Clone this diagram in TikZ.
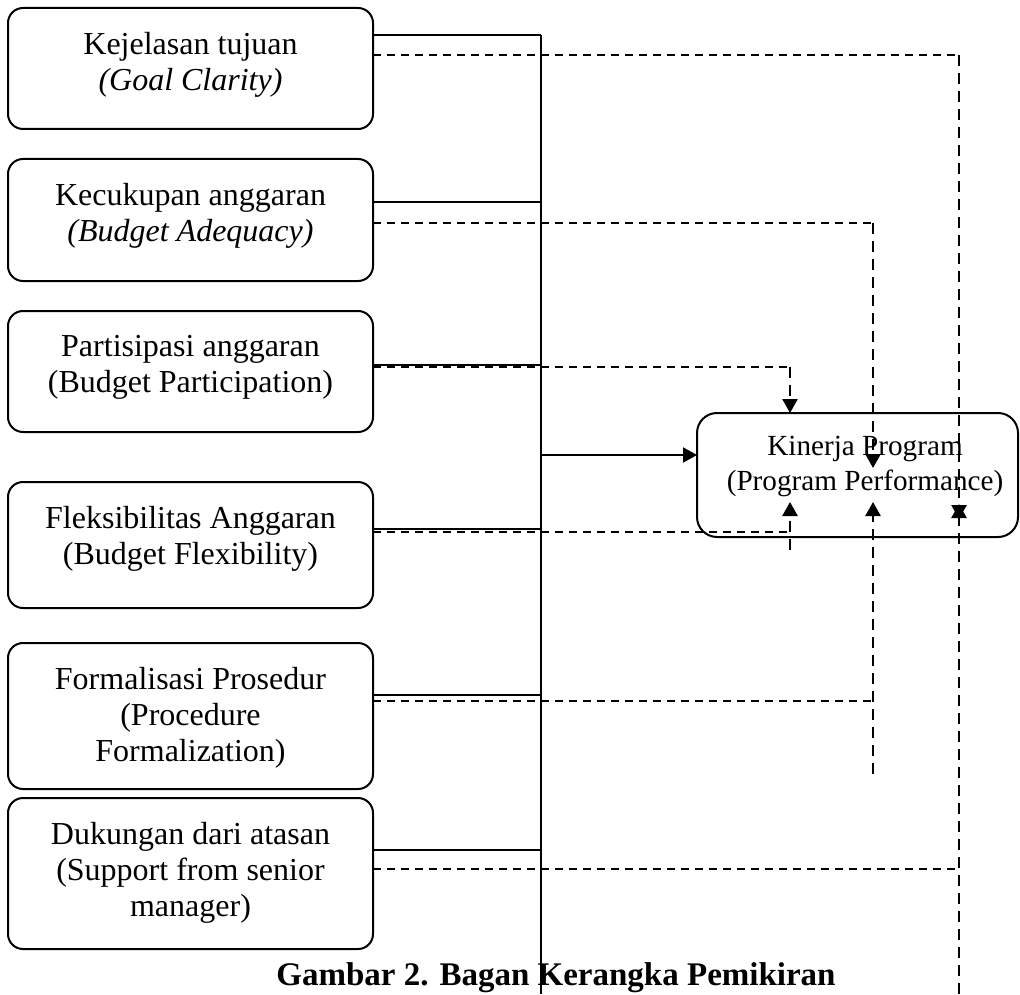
\documentclass[tikz,border=0pt]{standalone}
\usepackage{fontspec}
\setmainfont{Liberation Serif}
\usetikzlibrary{positioning}
\usetikzlibrary{arrows.meta}

\tikzset{
  factor/.style={draw, rounded corners=7.5pt, minimum width=182.5pt, line width=1pt, inner sep=0pt, outer sep=0pt},
  factortext/.style={align=center, inner sep=0pt, font=\fontsize{16}{18}\selectfont},
  link/.style={line width=1pt},
  dashlink/.style={line width=1pt, dash pattern=on 4pt off 3pt},
  dashup/.style={line width=1.3pt, dash pattern=on 5.5pt off 3.5pt},
  tip/.style={-{Triangle[length=7pt,width=7.5pt]}}
}

\begin{document}
\begin{tikzpicture}[x=0.5pt, y=-0.5pt]
    \useasboundingbox (0,0) rectangle (1020,994);

    % Define nodes
    \node[factor, minimum height=60.5pt, anchor=north west] (goal) at (8,8) {};
    \node[factor, minimum height=61pt, below=15pt of goal] (adequacy) {};
    \node[factor, minimum height=60.5pt, below=15pt of adequacy] (participation) {};
    \node[factor, minimum height=63pt, below=25pt of participation] (flexibility) {};
    \node[factor, minimum height=73pt, below=17.5pt of flexibility] (formal) {};
    \node[factor, minimum height=75.5pt, below=4.5pt of formal] (support) {};

    \node[factortext, below=12pt of goal.north] (goaltext) {Kejelasan tujuan\\\textit{(Goal Clarity)}};
    \node[factortext, below=12pt of adequacy.north] (adequacytext) {Kecukupan anggaran\\\textit{(Budget Adequacy)}};
    \node[factortext, below=12pt of participation.north] (participationtext) {Partisipasi anggaran\\(Budget Participation)};
    \node[factortext, below=12pt of flexibility.north] (flexibilitytext) {Fleksibilitas Anggaran\\(Budget Flexibility)};
    \node[factortext, below=12pt of formal.north] (formaltext) {Formalisasi Prosedur\\(Procedure\\Formalization)};
    \node[factortext, below=12pt of support.north] (supporttext) {Dukungan dari atasan\\(Support from senior\\manager)};

    \node[draw, rounded corners=10pt, line width=1pt, minimum width=160.5pt, minimum height=62pt,
          outer sep=0pt, anchor=north west] (perf) at (697,413) {};
    \node[align=center, inner sep=0pt, font=\fontsize{14.6}{17.5}\selectfont, anchor=north] (perftext) at (865,436)
          {Kinerja Program\\(Program Performance)};

    \coordinate (bustop) at (541,35);
    \coordinate (busbottom) at (541,994);

    \node[font=\fontsize{16.5}{18}\selectfont\bfseries, anchor=base west, inner sep=0pt] (caption) at (276,985)
          {Gambar 2. Bagan Kerangka Pemikiran};

    % Connect the nodes
    \draw[link] (bustop) -- (busbottom);
    \foreach \name/\sy/\dy/\cx in {goal/35/55/959, adequacy/202/223/873, participation/365/367/790,
                                   flexibility/529/532/790, formal/695/701/873, support/850/869/959} {
        \draw[link] (\name.east |- 0,\sy) -- (bustop |- 0,\sy);
        \draw[dashlink] (\name.east |- 0,\dy) -- (\cx,\dy);
    }
    \draw[link, tip] (bustop |- 0,455) -- (perf.west |- 0,455);

    \draw[dashup, tip] (790,367) -- (perf.north -| 790,0);
    \draw[dashup, tip] (790,550) -- (790,502);
    \draw[dashup, tip] (873,223) -- (873,468);
    \draw[dashup, tip] (873,774) -- (873,502);
    \draw[dashup, tip] (959,55) -- (959,519);
    \draw[dashup, tip] (959,994) -- (959,504);

\end{tikzpicture}
\end{document}
